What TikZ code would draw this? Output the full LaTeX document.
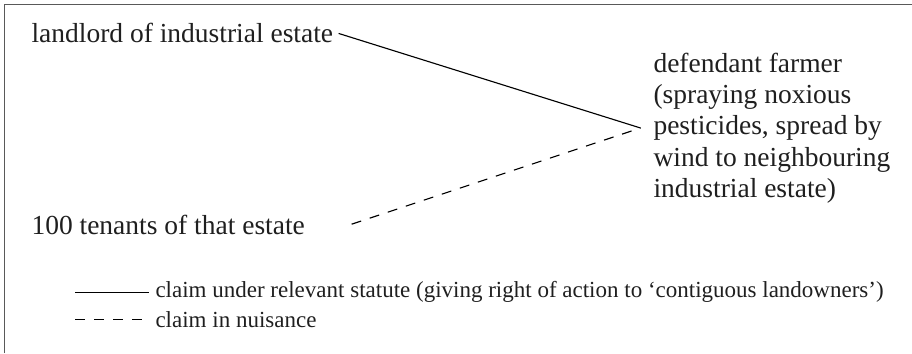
\documentclass[tikz,border=0pt]{standalone}
\usepackage{fontspec}
\setmainfont{Liberation Serif}
\begin{document}
\begin{tikzpicture}[x=.4pt,y=.4pt,
  party/.style={inner sep=2pt,font=\fontsize{11}{12.5}\selectfont,text=black!88},
  keytext/.style={inner sep=2pt,font=\fontsize{9.2}{11}\selectfont,text=black!88,anchor=base west},
  statute/.style={line width=.45pt},
  nuisance/.style={line width=.45pt,dash pattern=on 4pt off 3.6pt}]
  \useasboundingbox (0,0) rectangle (912,353);
  \draw[black!65,line width=.7pt] (4.5,0)--(4.5,348.5)--(912,348.5);
  \node[party,anchor=base west] (landlord) at (26,310) {landlord of industrial estate};
  \node[party,anchor=base west] (tenants) at (26,118) {100 tenants of that estate};
  \node[party,anchor=west,align=left] (farmer) at (648,225)
    {defendant farmer\\(spraying noxious\\pesticides, spread by\\wind to neighbouring\\industrial estate)};
  \coordinate (meet) at ([xshift=-3pt]farmer.west);
  \draw[statute] (landlord.east)--(meet);
  \draw[nuisance] ([xshift=16.5pt,yshift=.5pt]tenants.east)--(meet);
  \node[keytext] (keystat) at (150,55)
    {claim under relevant statute (giving right of action to ‘contiguous landowners’)};
  \node[keytext] (keynuis) at (150,26) {claim in nuisance};
  \draw[statute] ([xshift=-30pt]keystat.west)--([xshift=-.5pt]keystat.west);
  \draw[nuisance] ([xshift=-30pt]keynuis.west)--([xshift=-.5pt]keynuis.west);
\end{tikzpicture}
\end{document}
